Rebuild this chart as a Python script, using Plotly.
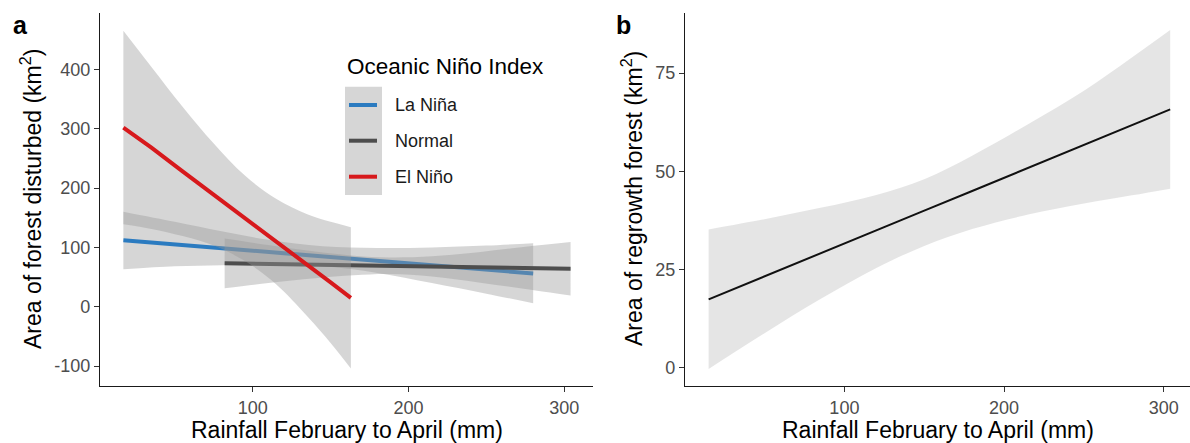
import plotly.graph_objects as go

# ---- Panel a: area of forest disturbed vs Feb-Apr rainfall, by ONI phase ----
la_nina_rain = [17, 50, 80, 110, 145, 180, 215, 250, 280]
la_nina_fit = [112, 105, 99, 92, 85, 78, 70, 63, 56]
la_nina_lo = [63, 68, 70, 71, 68, 57, 40, 22, 6]
la_nina_hi = [160, 143, 127, 113, 102, 99, 100, 103, 107]

normal_rain = [82, 110, 140, 165, 188, 215, 245, 275, 304]
normal_fit = [73.1, 72.0, 70.7, 69.7, 68.8, 67.7, 66.5, 65.3, 64.1]
normal_lo = [31, 40, 48, 53, 55, 51, 41, 30, 19]
normal_hi = [115, 104, 93, 86, 83, 85, 92, 101, 109]

el_nino_rain = [17, 35, 55, 75, 95, 115, 135, 150, 163]
el_nino_fit = [302, 268, 228, 189, 149, 110, 70, 41, 15]
el_nino_lo = [139, 131, 119, 103, 77, 38, -16, -61, -104]
el_nino_hi = [465, 404, 337, 275, 221, 182, 156, 143, 134]

# ---- Panel b: area of regrowth forest vs Feb-Apr rainfall ----
regrowth_rain = [15, 50, 85, 120, 150, 180, 215, 250, 280, 304]
regrowth_fit = [17.4, 23.3, 29.1, 35.0, 40.0, 45.0, 50.9, 56.7, 61.7, 65.8]
regrowth_lo = [-0.3, 8.8, 17.5, 25.4, 31.0, 35.3, 39.0, 41.8, 43.9, 45.6]
regrowth_hi = [35.2, 37.8, 40.7, 44.0, 48.0, 54.0, 62.0, 70.5, 79.0, 86.0]

# tick values and labels
a_xticks = [100, 200, 300]
a_yticks = [-100, 0, 100, 200, 300, 400]
a_yticklabels = ["-100", "0", "100", "200", "300", "400"]
b_xticks = [100, 200, 300]
b_yticks = [0, 25, 50, 75]

legend_names = ["La Niña", "Normal", "El Niño"]
legend_colors = ["#2B7BC0", "#4D4D4D", "#D7191C"]

W, H = 1190, 443
FONT = "Liberation Sans, Arial, sans-serif"
RIBBON_A = "rgba(153,153,153,0.4)"
RIBBON_B = "rgba(153,153,153,0.25)"


def px(x):
    return x / W


def py(y):
    return 1 - y / H


fig = go.Figure()


def add_smooth(x, fit, lo, hi, color, width, fillcolor, xa, ya):
    common = dict(xaxis=xa, yaxis=ya, hoverinfo="skip", showlegend=False)
    fig.add_trace(go.Scatter(x=x, y=lo, mode="lines",
                             line=dict(width=0, shape="spline", smoothing=1.0),
                             **common))
    fig.add_trace(go.Scatter(x=x, y=hi, mode="lines",
                             line=dict(width=0, shape="spline", smoothing=1.0),
                             fill="tonexty", fillcolor=fillcolor, **common))
    fig.add_trace(go.Scatter(x=x, y=fit, mode="lines",
                             line=dict(color=color, width=width),
                             **common))


add_smooth(la_nina_rain, la_nina_fit, la_nina_lo, la_nina_hi,
           legend_colors[0], 4, RIBBON_A, "x", "y")
add_smooth(normal_rain, normal_fit, normal_lo, normal_hi,
           legend_colors[1], 4, RIBBON_A, "x", "y")
add_smooth(el_nino_rain, el_nino_fit, el_nino_lo, el_nino_hi,
           legend_colors[2], 4, RIBBON_A, "x", "y")
add_smooth(regrowth_rain, regrowth_fit, regrowth_lo, regrowth_hi,
           "#111111", 2, RIBBON_B, "x2", "y2")

axis_common = dict(
    showgrid=False, zeroline=False, showline=True, linecolor="#1a1a1a",
    linewidth=1.3, ticks="outside", ticklen=5, tickwidth=1.2,
    tickcolor="#333333",
    tickfont=dict(family=FONT, size=18, color="#4d4d4d"),
)

y_dom = [py(386), py(12.7)]

fig.update_layout(
    width=W, height=H,
    margin=dict(l=0, r=0, t=0, b=0),
    paper_bgcolor="white", plot_bgcolor="white",
    showlegend=False,
    xaxis=dict(domain=[px(100), px(593)], range=[2.0, 318.4], anchor="y",
               tickvals=a_xticks, **axis_common),
    yaxis=dict(domain=y_dom, range=[-133.6, 495.5], anchor="x",
               tickvals=a_yticks, ticktext=a_yticklabels, **axis_common),
    xaxis2=dict(domain=[px(685), 1.0], range=[0.2, 316.4], anchor="y2",
                tickvals=b_xticks, **axis_common),
    yaxis2=dict(domain=y_dom, range=[-4.66, 90.4], anchor="x2",
                tickvals=b_yticks, **axis_common),
)

annotations = []
title_font = dict(family=FONT, size=23, color="black")

# axis titles
for cx in (346.5, 937.5):
    annotations.append(dict(
        x=px(cx), y=py(430), xref="paper", yref="paper",
        text="Rainfall February to April (mm)", showarrow=False,
        font=title_font, xanchor="center", yanchor="middle"))
annotations.append(dict(
    x=px(31), y=py(199), xref="paper", yref="paper",
    text="Area of forest disturbed (km<sup>2</sup>)", showarrow=False,
    font=title_font, textangle=-90, xanchor="center", yanchor="middle"))
annotations.append(dict(
    x=px(632), y=py(199), xref="paper", yref="paper",
    text="Area of regrowth forest (km<sup>2</sup>)", showarrow=False,
    font=title_font, textangle=-90, xanchor="center", yanchor="middle"))

# panel tags
for tag, lx in (("a", 11), ("b", 614)):
    annotations.append(dict(
        x=px(lx), y=py(25), xref="paper", yref="paper",
        text=f"<b>{tag}</b>", showarrow=False,
        font=dict(family=FONT, size=25, color="black"),
        xanchor="left", yanchor="middle"))

# legend for panel a
annotations.append(dict(
    x=px(345), y=py(66.7), xref="paper", yref="paper",
    text="Oceanic Niño Index", showarrow=False,
    font=dict(family=FONT, size=22.5, color="black"),
    xanchor="left", yanchor="middle"))

shapes = [dict(type="rect", xref="paper", yref="paper",
               x0=px(345), x1=px(382), y0=py(195), y1=py(86.7),
               fillcolor=RIBBON_A, line=dict(width=0), layer="above")]
key_rows = [105, 140.7, 176.7]
for name, color, ky in zip(legend_names, legend_colors, key_rows):
    shapes.append(dict(type="line", xref="paper", yref="paper",
                       x0=px(349), x1=px(377), y0=py(ky), y1=py(ky),
                       line=dict(color=color, width=4), layer="above"))
    annotations.append(dict(
        x=px(393), y=py(ky), xref="paper", yref="paper", text=name,
        showarrow=False, font=dict(family=FONT, size=18, color="#1a1a1a"),
        xanchor="left", yanchor="middle"))

fig.update_layout(annotations=annotations, shapes=shapes)

fig.write_html("out.html")
